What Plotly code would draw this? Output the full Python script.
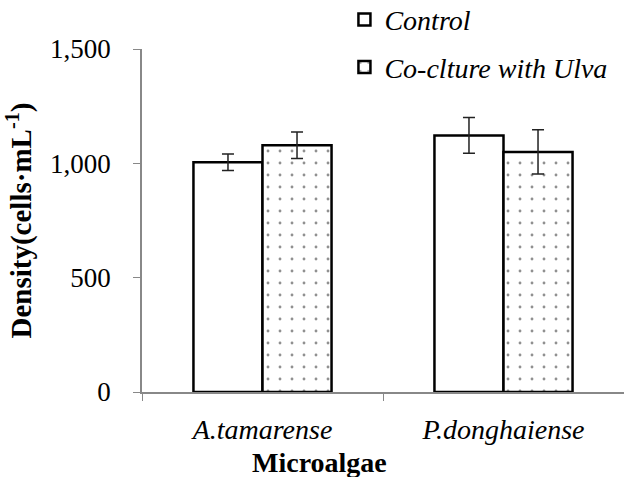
import plotly.graph_objects as go

categories = ["A.tamarense", "P.donghaiense"]
control_vals = [1005, 1122]
control_err = [36, 78]
cocult_vals = [1079, 1050]
cocult_err = [58, 97]
y_ticks = [0, 500, 1000, 1500]

cat_labels = [f"<i>{c}</i>" for c in categories]
FONT = "Liberation Serif, Times New Roman, serif"

fig = go.Figure()
fig.add_trace(go.Bar(
    x=cat_labels, y=control_vals, name="<i>Control</i>",
    marker=dict(color="white", line=dict(color="black", width=2.5)),
    error_y=dict(type="data", array=control_err, color="#222222", thickness=1.5, width=6),
    legendgroup="a",
))
fig.add_trace(go.Bar(
    x=cat_labels, y=cocult_vals, name="<i>Co-clture with Ulva</i>",
    marker=dict(color="white", line=dict(color="black", width=2.5),
                pattern=dict(shape=".", fgcolor="#222222", bgcolor="white", size=12, solidity=0.045)),
    error_y=dict(type="data", array=cocult_err, color="#222222", thickness=1.5, width=6),
    legendgroup="b",
))

fig.update_layout(
    width=624, height=477,
    margin=dict(l=142, r=0, t=49, b=85, autoexpand=False),
    paper_bgcolor="white", plot_bgcolor="white",
    barmode="group", bargap=0.427, bargroupgap=0,
    font=dict(family=FONT, size=27, color="black"),
    legend=dict(x=0.42, y=1.158, xref="paper", yref="paper", xanchor="left", yanchor="top",
                font=dict(family=FONT, size=28), tracegroupgap=8,
                bgcolor="rgba(0,0,0,0)", itemwidth=30),
    xaxis=dict(
        range=[-0.5, 1.5], showline=True, linecolor="#888888", linewidth=1.5,
        ticks="outside", tickson="boundaries", ticklen=7, tickcolor="#888888",
        tickfont=dict(family=FONT, size=28), ticklabelstandoff=12,
    ),
    yaxis=dict(
        range=[0, 1500], tickvals=y_ticks, tickformat=",",
        showline=True, linecolor="#888888", linewidth=1.5, showgrid=False, zeroline=False,
        ticks="outside", ticklen=7, tickcolor="#888888",
        tickfont=dict(family=FONT, size=27), ticklabelstandoff=17,
        title=dict(text="<b>Density(cells·mL<sup>-1</sup>)</b>", font=dict(family=FONT, size=29), standoff=10),
    ),
    annotations=[dict(
        text="<b>Microalgae</b>", xref="paper", yref="paper",
        x=0.369, y=-0.206, xanchor="center", yanchor="middle", showarrow=False,
        font=dict(family=FONT, size=28, color="black"),
    )],
)

fig.write_html("out.html")
